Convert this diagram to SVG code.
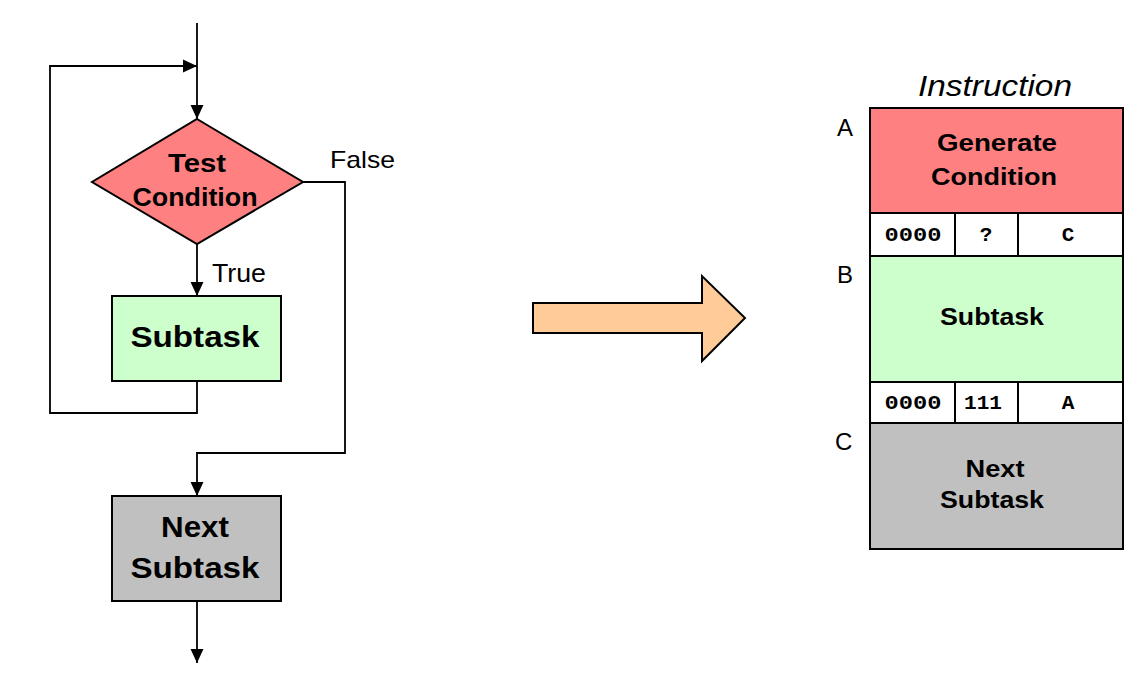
<svg xmlns="http://www.w3.org/2000/svg" width="1128" height="690" viewBox="0 0 1128 690">
<style>
.box{stroke:#000;stroke-width:2}
.ln{fill:none;stroke:#000;stroke-width:1.8}
.b{font-family:"Liberation Sans",Arial,sans-serif;font-weight:bold;text-anchor:middle;fill:#000}
.r{font-family:"Liberation Sans",Arial,sans-serif;fill:#000}
.m{font-family:"Liberation Mono","Courier New",monospace;font-weight:bold;font-size:21px;text-anchor:middle;fill:#000}
</style>
<defs>
<marker id="ah" markerWidth="14" markerHeight="14" viewBox="0 0 13 12" refX="13" refY="6" orient="auto" markerUnits="userSpaceOnUse">
<path d="M0,0 L13,6 L0,12 z" fill="#000"/>
</marker>
</defs>
<rect width="1128" height="690" fill="#fff"/>
<g id="connectors">
<path class="ln" d="M197,23 V119" marker-end="url(#ah)"/>
<path class="ln" d="M197,381 V413 H50 V66 H197" marker-end="url(#ah)"/>
<path class="ln" d="M197,244 V296" marker-end="url(#ah)"/>
<path class="ln" d="M303,182 H345 V453 H197 V496" marker-end="url(#ah)"/>
<path class="ln" d="M197,601 V663" marker-end="url(#ah)"/>
<text class="r" x="330" y="168" font-size="24" textLength="65" lengthAdjust="spacingAndGlyphs">False</text>
<text class="r" x="212" y="282" font-size="26" textLength="54" lengthAdjust="spacingAndGlyphs">True</text>
</g>
<g id="test-condition">
<polygon class="box" points="197,119 303,182 197,244 92,182" fill="#ff8080"/>
<text class="b" x="197" y="172" font-size="26" textLength="58" lengthAdjust="spacingAndGlyphs">Test</text>
<text class="b" x="195" y="206" font-size="26" textLength="125" lengthAdjust="spacingAndGlyphs">Condition</text>
</g>
<g id="subtask">
<rect class="box" x="112" y="296" width="169" height="85" fill="#ccffcc"/>
<text class="b" x="195" y="347" font-size="30" textLength="129" lengthAdjust="spacingAndGlyphs">Subtask</text>
</g>
<g id="next-subtask">
<rect class="box" x="112" y="496" width="169" height="105" fill="#c0c0c0"/>
<text class="b" x="195" y="537" font-size="30" textLength="68" lengthAdjust="spacingAndGlyphs">Next</text>
<text class="b" x="195" y="578" font-size="30" textLength="129" lengthAdjust="spacingAndGlyphs">Subtask</text>
</g>
<g id="big-arrow">
<polygon class="box" points="533,303 702,303 702,276 745,318 702,361 702,333 533,333" fill="#ffcc99"/>
</g>
<g id="instruction">
<text class="r" x="995" y="96" font-size="30" font-style="italic" text-anchor="middle" textLength="154" lengthAdjust="spacingAndGlyphs">Instruction</text>
<text class="r" x="837" y="136" font-size="24">A</text>
<text class="r" x="837" y="283" font-size="24">B</text>
<text class="r" x="835" y="450" font-size="24">C</text>
</g>
<g id="block-a">
<rect class="box" x="870" y="108" width="253" height="105" fill="#ff8080"/>
<text class="b" x="997" y="151" font-size="24" textLength="120" lengthAdjust="spacingAndGlyphs">Generate</text>
<text class="b" x="994" y="185" font-size="24" textLength="126" lengthAdjust="spacingAndGlyphs">Condition</text>
</g>
<g id="row-a">
<rect class="box" x="870" y="213" width="253" height="43" fill="#fff"/>
<path class="box" d="M955,213 V256 M1018,213 V256"/>
<text class="m" x="913" y="241" textLength="57" lengthAdjust="spacingAndGlyphs">0000</text>
<text class="m" x="986" y="241">?</text>
<text class="m" x="1068" y="241">C</text>
</g>
<g id="block-b">
<rect class="box" x="870" y="256" width="253" height="126" fill="#ccffcc"/>
<text class="b" x="992" y="325" font-size="24" textLength="104" lengthAdjust="spacingAndGlyphs">Subtask</text>
</g>
<g id="row-b">
<rect class="box" x="870" y="382" width="253" height="41" fill="#fff"/>
<path class="box" d="M955,382 V423 M1018,382 V423"/>
<text class="m" x="913" y="409" textLength="57" lengthAdjust="spacingAndGlyphs">0000</text>
<text class="m" x="983" y="409" textLength="38" lengthAdjust="spacingAndGlyphs">111</text>
<text class="m" x="1068" y="409">A</text>
</g>
<g id="block-c">
<rect class="box" x="870" y="423" width="253" height="126" fill="#c0c0c0"/>
<text class="b" x="995" y="477" font-size="24" textLength="59" lengthAdjust="spacingAndGlyphs">Next</text>
<text class="b" x="992" y="508" font-size="24" textLength="104" lengthAdjust="spacingAndGlyphs">Subtask</text>
</g>
</svg>
